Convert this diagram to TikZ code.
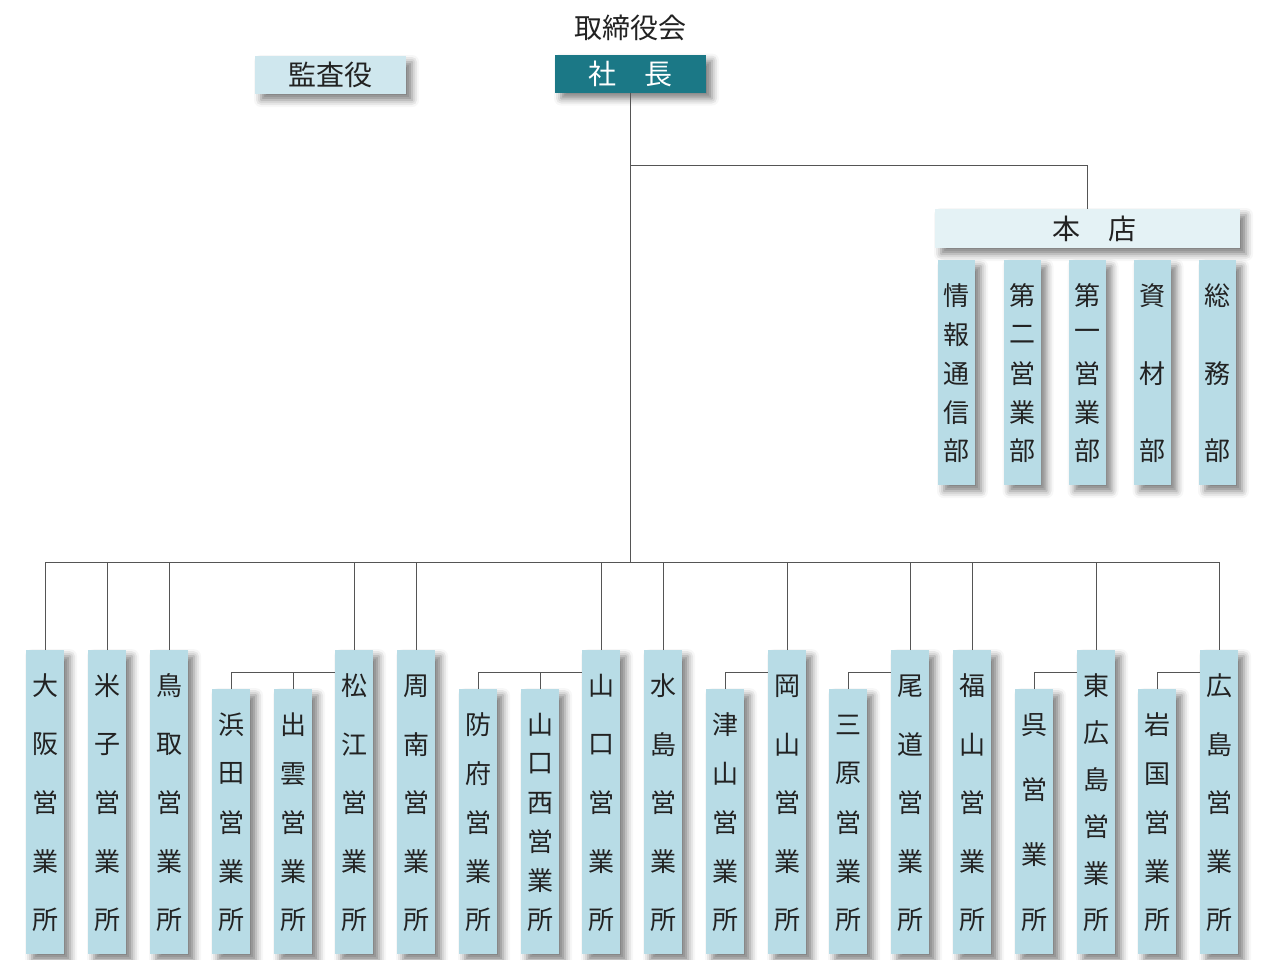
\documentclass[tikz,border=0pt]{standalone}
\usepackage{fontspec}
\newfontfamily\jpfont{Noto Sans CJK JP}
\usetikzlibrary{shadows.blur,positioning}

\definecolor{orgteal}{HTML}{1B7886}
\definecolor{orgblue}{HTML}{B8DCE6}
\definecolor{orgpale}{HTML}{CFE7EE}
\definecolor{orgpaler}{HTML}{E4F2F5}
\definecolor{orgline}{HTML}{555555}
\definecolor{orgtext}{HTML}{222222}

\tikzset{
  softshadow/.style={blur shadow={shadow xshift=6pt, shadow yshift=-6pt, shadow blur radius=7pt, shadow opacity=50}},
  unit/.style={fill=orgblue, minimum width=38pt, inner sep=0pt, anchor=north, softshadow},
  head/.style={minimum width=151pt, minimum height=38pt, inner sep=0pt, text=orgtext, font=\jpfont\fontsize{28}{32}\selectfont, softshadow},
  glyph/.style={inner sep=0pt, text=orgtext},
  link/.style={draw=orgline, line width=0.8pt},
}

\begin{document}
\begin{tikzpicture}[x=1pt,y=-1pt,font=\jpfont\fontsize{26}{30}\selectfont]
\useasboundingbox (0,0) rectangle (1265,959);

% top of the chart
\node[glyph, font=\jpfont\fontsize{28}{32}\selectfont] (board) at (630,28) {取締役会};
\node[head, fill=orgteal, text=white] (president) at (630.5,73.5) {社\hspace{28pt}長};
\node[head, fill=orgpale] (auditor) at (330.5,75) {監査役};
\node[head, fill=orgpaler, minimum width=305pt, minimum height=39pt] (honten) at (1087.5,228.5) {\hspace{14pt}本\hspace{28pt}店};

% departments of the head office
\foreach \nm/\xc/\chars/\cnt in {info/956.5/{情,報,通,信,部}/5, sales2/1022/{第,二,営,業,部}/5,
    sales1/1087/{第,一,営,業,部}/5, material/1152/{資,材,部}/3, general/1217.5/{総,務,部}/3}{
  \node[unit, minimum width=37pt, minimum height=225pt] (\nm) at (\xc,260) {};
  \foreach \ch [count=\k] in \chars
    \node[glyph] (\nm-\k) at (\xc,{296+(\k-1)*155/(\cnt-1)}) {\ch};
}

% offices
\foreach \nm/\xc/\tp/\chars/\cnt in {
    osaka/45/650/{大,阪,営,業,所}/5,
    yonago/107/650/{米,子,営,業,所}/5,
    tottori/169/650/{鳥,取,営,業,所}/5,
    hamada/231/689/{浜,田,営,業,所}/5,
    izumo/293/689/{出,雲,営,業,所}/5,
    matsue/354/650/{松,江,営,業,所}/5,
    shunan/416/650/{周,南,営,業,所}/5,
    hofu/478/689/{防,府,営,業,所}/5,
    yamaguchinishi/540/689/{山,口,西,営,業,所}/6,
    yamaguchi/601/650/{山,口,営,業,所}/5,
    mizushima/663/650/{水,島,営,業,所}/5,
    tsuyama/725/689/{津,山,営,業,所}/5,
    okayama/787/650/{岡,山,営,業,所}/5,
    mihara/848/689/{三,原,営,業,所}/5,
    onomichi/910/650/{尾,道,営,業,所}/5,
    fukuyama/972/650/{福,山,営,業,所}/5,
    kure/1034/689/{呉,営,業,所}/4,
    higashihiroshima/1096/650/{東,広,島,営,業,所}/6,
    iwakuni/1157/689/{岩,国,営,業,所}/5,
    hiroshima/1219/650/{広,島,営,業,所}/5}{
  \node[unit, minimum height={954-\tp}] (\nm) at (\xc,\tp) {};
  \foreach \ch [count=\k] in \chars
    \node[glyph] (\nm-\k) at (\xc,{\tp+36+(\k-1)*(954-\tp-70)/(\cnt-1)}) {\ch};
}

% connectors
\coordinate (hq-j) at (president.south |- 0,165);
\coordinate (bus-j) at (president.south |- 0,562);
\draw[link] (president.south) -- (bus-j);
\draw[link] (hq-j) -| (honten.north);
\draw[link] (osaka.north) |- (bus-j) -| (hiroshima.north);
\foreach \nm in {yonago,tottori,matsue,shunan,yamaguchi,mizushima,okayama,onomichi,fukuyama,higashihiroshima}
  \draw[link] (\nm.north) -- (\nm.north |- bus-j);
\foreach \boss/\kids in {matsue/{hamada,izumo}, yamaguchi/{hofu,yamaguchinishi}, okayama/{tsuyama},
    onomichi/{mihara}, higashihiroshima/{kure}, hiroshima/{iwakuni}}{
  \coordinate (\boss-j) at ([yshift=-22pt]\boss.north west);
  \foreach \kid in \kids
    \draw[link] (\kid.north) |- (\boss-j);
}
\end{tikzpicture}
\end{document}
